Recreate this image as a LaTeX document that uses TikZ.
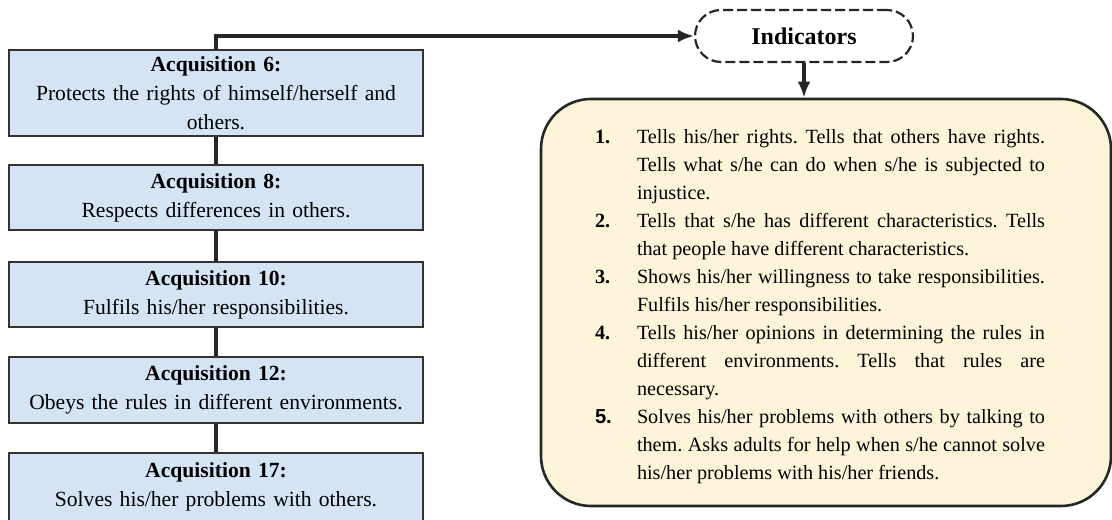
\documentclass[tikz,border=0pt]{standalone}
\usepackage{fontspec}
\setmainfont{Liberation Serif}
\setsansfont{Liberation Sans}
\usetikzlibrary{arrows.meta}
\definecolor{acqblue}{RGB}{212,228,245}
\definecolor{indyellow}{RGB}{252,244,217}
\frenchspacing
\newcommand{\indicatoritem}[2]{\par\noindent\hangindent=21pt\hangafter=1\makebox[21pt][l]{\textbf{#1}}#2\par}

\begin{document}
\begin{tikzpicture}[x=0.5pt,y=0.5pt,
	acqbox/.style={draw=black!80,line width=1pt,fill=acqblue,minimum width=207pt,text width=200pt,align=center,font=\fontsize{10.8}{14.5}\selectfont},
	link/.style={line width=1.6pt,draw=black!85},
	tip/.style={-{Latex[length=8pt,width=6.5pt]}}]
					\useasboundingbox (0,0) rectangle (1112,519);
					\node [acqbox,minimum height=41pt] (acq6) at (216,426) {\textbf{Acquisition 6:}\\Protects the rights of himself/herself and\\others.};
					\node [acqbox,minimum height=32.5pt] (acq8) at (216,321.5) {\textbf{Acquisition 8:}\\Respects differences in others.};
					\node [acqbox,minimum height=32.5pt] (acq10) at (216,224.5) {\textbf{Acquisition 10:}\\Fulfils his/her responsibilities.};
					\node [acqbox,minimum height=33pt] (acq12) at (216,129) {\textbf{Acquisition 12:}\\Obeys the rules in different environments.};
					\node [acqbox,minimum height=34pt] (acq17) at (216,32) {\textbf{Acquisition 17:}\\Solves his/her problems with others.};
					\draw [link] (acq6.south)--(acq8.north);
					\draw [link] (acq8.south)--(acq10.north);
					\draw [link] (acq10.south)--(acq12.north);
					\draw [link] (acq12.south)--(acq17.north);
					\node [draw=black!85,line width=1.1pt,dash pattern=on 5pt off 2pt,fill=white,rounded corners=13pt,minimum width=109pt,minimum height=26pt,font=\fontsize{12}{14}\selectfont\bfseries] (ind) at (804,483) {Indicators};
					\draw [link,tip] (acq6.north) |- (ind.west);
					\node [draw=black!85,line width=1.3pt,fill=indyellow,rounded corners=25pt,minimum width=285pt,minimum height=203.5pt,inner sep=0pt] (indlist) at (826,216.5) {};
					\draw [link,tip] (ind.south)--(ind.south |- indlist.north);
					\node [text width=225pt,align=justify,inner sep=0pt,font=\fontsize{10.1}{14}\selectfont] (indtext) at ([xshift=-3pt,yshift=1.5pt]indlist.center) {\setlength{\parskip}{0pt}%
						\indicatoritem{1.}{Tells his/her rights. Tells that others have rights.\linebreak Tells what s/he can do when s/he is subjected to\linebreak injustice.}
						\indicatoritem{2.}{Tells that s/he has different characteristics. Tells\linebreak that people have different characteristics.}
						\indicatoritem{3.}{Shows his/her willingness to take responsibilities.\linebreak Fulfils his/her responsibilities.}
						\indicatoritem{4.}{Tells his/her opinions in determining the rules in\linebreak different environments. Tells that rules are\linebreak necessary.}
						\indicatoritem{\sffamily 5.}{Solves his/her problems with others by talking to\linebreak them. Asks adults for help when s/he cannot solve\linebreak his/her problems with his/her friends.}};
				\end{tikzpicture}
\end{document}
